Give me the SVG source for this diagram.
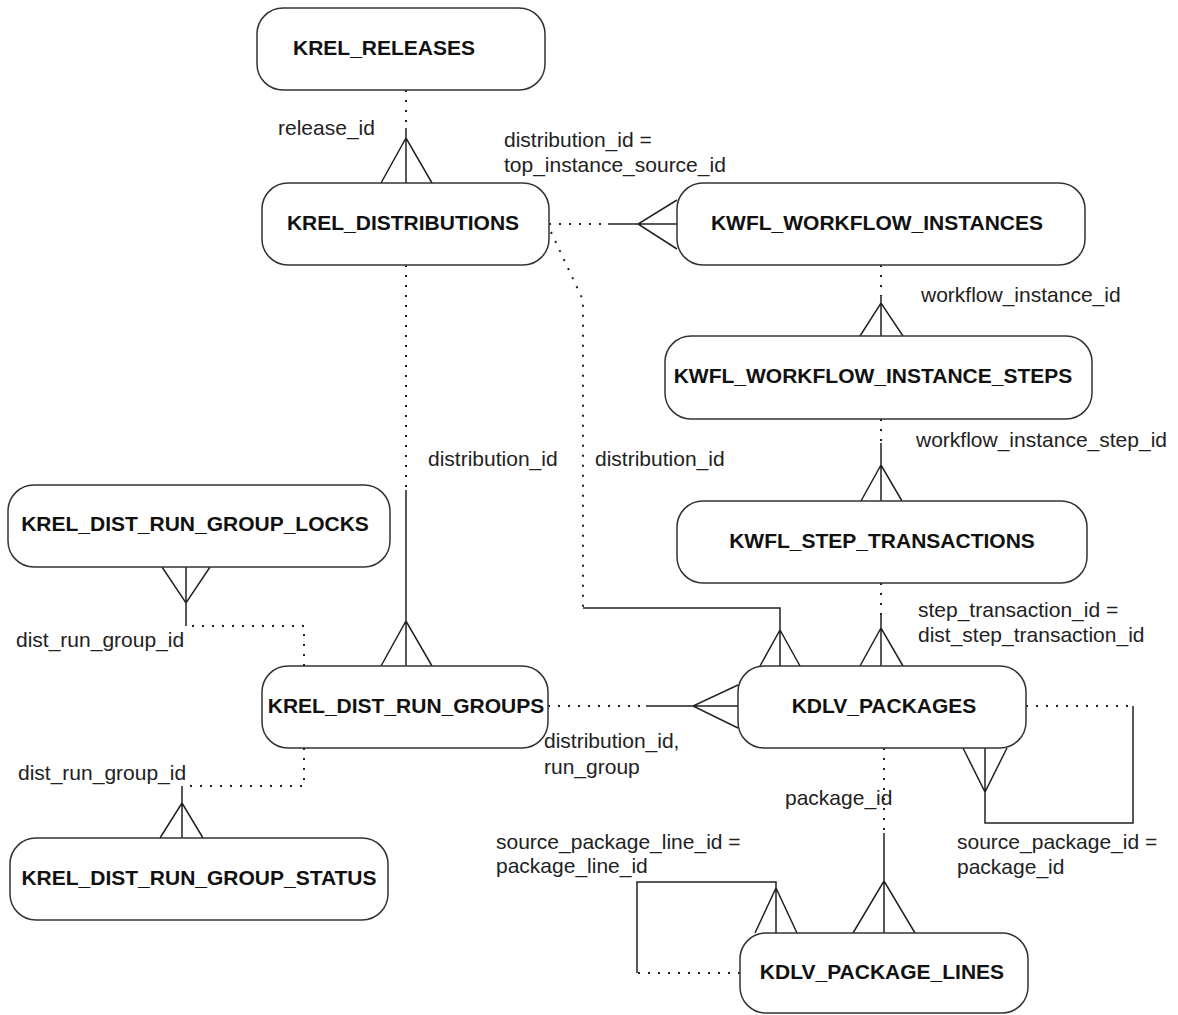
<svg xmlns="http://www.w3.org/2000/svg" width="1178" height="1015" viewBox="0 0 1178 1015">
<style>
.box{fill:#fff;stroke:#333;stroke-width:1.5}
.name{font-family:"Liberation Sans",Arial,sans-serif;font-weight:bold;font-size:21px;fill:#111;text-anchor:middle}
.lbl{font-family:"Liberation Sans",Arial,sans-serif;font-size:21px;fill:#222}
.dot{fill:none;stroke:#222;stroke-width:2;stroke-dasharray:2 8}
.sol{fill:none;stroke:#222;stroke-width:1.5}
</style>
<rect width="1178" height="1015" fill="#fff"/>
<g id="connectors">
  <path class="dot" d="M406,90 V128"/><path class="sol" d="M406,128 V183 M381,183 L406,138 L432,183"/>
  <path class="dot" d="M549,224 H608"/><path class="sol" d="M608,224 H677 M677,200 L638,224 L677,249"/>
  <path class="dot" d="M551,232 L583,300 V608"/><path class="sol" d="M583,608 H780 V666 M760,666 L780,630 L800,666"/>
  <path class="dot" d="M881,265 V296"/><path class="sol" d="M881,296 V336 M860,336 L881,303 L903,336"/>
  <path class="dot" d="M881,419 V443"/><path class="sol" d="M881,443 V501 M861,501 L881,465 L902,501"/>
  <path class="dot" d="M881,583 V615"/><path class="sol" d="M881,615 V666 M860,666 L881,628 L903,666"/>
  <path class="dot" d="M406,265 V490"/><path class="sol" d="M406,490 V666 M381,666 L406,621 L432,666"/>
  <path class="dot" d="M304,666 V626 H186"/><path class="sol" d="M186,626 V567 M162,567 L186,603 L210,567"/>
  <path class="dot" d="M304,748 V786 H182"/><path class="sol" d="M182,786 V838 M160,838 L182,803 L203,838"/>
  <path class="dot" d="M548,706 H646"/><path class="sol" d="M646,706 H738 M738,685 L693,706 L738,728"/>
  <path class="dot" d="M1026,706 H1133"/><path class="sol" d="M1133,706 V823 H985 V748 M963,748 L985,792 L1007,748"/>
  <path class="dot" d="M884,748 V833"/><path class="sol" d="M884,833 V933 M853,933 L884,881 L915,933"/>
  <path class="dot" d="M740,973 H637"/><path class="sol" d="M637,973 V882 H776 V933 M755,933 L776,888 L797,933"/>
</g>
<g id="labels">
  <text class="lbl" x="278" y="135">release_id</text>
  <text class="lbl" x="504" y="147">distribution_id =</text>
  <text class="lbl" x="504" y="172">top_instance_source_id</text>
  <text class="lbl" x="921" y="302">workflow_instance_id</text>
  <text class="lbl" x="916" y="447">workflow_instance_step_id</text>
  <text class="lbl" x="428" y="466">distribution_id</text>
  <text class="lbl" x="595" y="466">distribution_id</text>
  <text class="lbl" x="16" y="647">dist_run_group_id</text>
  <text class="lbl" x="918" y="617">step_transaction_id =</text>
  <text class="lbl" x="918" y="642">dist_step_transaction_id</text>
  <text class="lbl" x="544" y="748">distribution_id,</text>
  <text class="lbl" x="544" y="774">run_group</text>
  <text class="lbl" x="18" y="780">dist_run_group_id</text>
  <text class="lbl" x="785" y="805">package_id</text>
  <text class="lbl" x="496" y="849">source_package_line_id =</text>
  <text class="lbl" x="496" y="873">package_line_id</text>
  <text class="lbl" x="957" y="849">source_package_id =</text>
  <text class="lbl" x="957" y="874">package_id</text>
</g>
<g id="KREL_RELEASES"><rect class="box" x="257" y="8" width="288" height="82" rx="26"/><text class="name" x="384" y="55">KREL_RELEASES</text></g>
<g id="KREL_DISTRIBUTIONS"><rect class="box" x="262" y="183" width="287" height="82" rx="26"/><text class="name" x="403" y="230">KREL_DISTRIBUTIONS</text></g>
<g id="KWFL_WORKFLOW_INSTANCES"><rect class="box" x="677" y="183" width="408" height="82" rx="26"/><text class="name" x="877" y="230">KWFL_WORKFLOW_INSTANCES</text></g>
<g id="KWFL_WORKFLOW_INSTANCE_STEPS"><rect class="box" x="665" y="336" width="427" height="83" rx="26"/><text class="name" x="873" y="383">KWFL_WORKFLOW_INSTANCE_STEPS</text></g>
<g id="KWFL_STEP_TRANSACTIONS"><rect class="box" x="677" y="501" width="410" height="82" rx="26"/><text class="name" x="882" y="548">KWFL_STEP_TRANSACTIONS</text></g>
<g id="KREL_DIST_RUN_GROUP_LOCKS"><rect class="box" x="8" y="485" width="382" height="82" rx="26"/><text class="name" x="195" y="531">KREL_DIST_RUN_GROUP_LOCKS</text></g>
<g id="KREL_DIST_RUN_GROUPS"><rect class="box" x="262" y="666" width="286" height="82" rx="26"/><text class="name" x="406" y="713">KREL_DIST_RUN_GROUPS</text></g>
<g id="KDLV_PACKAGES"><rect class="box" x="738" y="666" width="288" height="82" rx="26"/><text class="name" x="884" y="713">KDLV_PACKAGES</text></g>
<g id="KREL_DIST_RUN_GROUP_STATUS"><rect class="box" x="10" y="838" width="378" height="82" rx="26"/><text class="name" x="199" y="885">KREL_DIST_RUN_GROUP_STATUS</text></g>
<g id="KDLV_PACKAGE_LINES"><rect class="box" x="740" y="933" width="288" height="80" rx="26"/><text class="name" x="882" y="979">KDLV_PACKAGE_LINES</text></g>
</svg>
